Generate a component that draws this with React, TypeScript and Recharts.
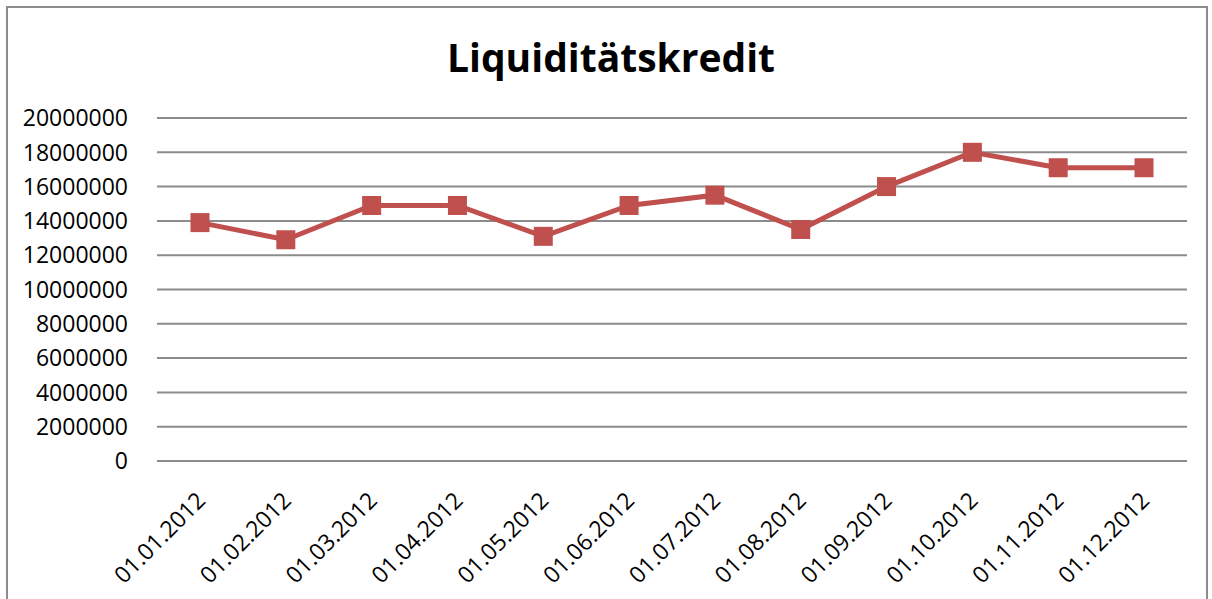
import { CartesianGrid, Line, LineChart, XAxis, YAxis } from 'recharts';

const dates = [
  '01.01.2012', '01.02.2012', '01.03.2012', '01.04.2012', '01.05.2012', '01.06.2012',
  '01.07.2012', '01.08.2012', '01.09.2012', '01.10.2012', '01.11.2012', '01.12.2012',
];
const credit = [
  13900000, 12900000, 14900000, 14900000, 13100000, 14900000,
  15500000, 13500000, 16000000, 18000000, 17100000, 17100000,
];
const yTicks = [0, 2000000, 4000000, 6000000, 8000000, 10000000, 12000000, 14000000, 16000000, 18000000, 20000000];

const data = dates.map((d, i) => ({ date: d, value: credit[i] }));

const FONT = '"Open Sans", sans-serif';
const RED = '#C0504D';

function YTick({ x, y, payload }: any) {
  return (
    <text x={x - 21} y={y} dy="0.36em" textAnchor="end" fontFamily={FONT} fontSize={23} fill="#000">
      {payload.value}
    </text>
  );
}

function XTick({ x, y, payload }: any) {
  const ax = x + 1;
  const ay = y + 27;
  return (
    <text
      x={ax}
      y={ay}
      dy="0.36em"
      textAnchor="end"
      transform={`rotate(-45, ${ax}, ${ay})`}
      fontFamily={FONT}
      fontSize={23}
      fill="#000"
    >
      {payload.value}
    </text>
  );
}

function SquareDot({ cx, cy, index }: any) {
  return <rect key={index} x={cx - 9.5} y={cy - 9.5} width={19} height={19} fill={RED} />;
}

export default function App() {
  return (
    <div style={{ position: 'absolute', left: 0, top: 0, width: 1212, height: 599, overflow: 'hidden', background: '#fff' }}>
      <div
        style={{
          position: 'absolute',
          left: 6,
          top: 6,
          width: 1198,
          height: 640,
          border: '2px solid #8c8c8c',
        }}
      />
      <div
        style={{
          position: 'absolute',
          left: 0,
          width: 1222,
          top: 37,
          textAlign: 'center',
          fontFamily: FONT,
          fontWeight: 700,
          fontSize: 39,
          lineHeight: 1,
          color: '#000',
        }}
      >
        Liquiditätskredit
      </div>
      <div style={{ position: 'absolute', left: 0, top: 0 }}>
        <LineChart width={1212} height={599} data={data} margin={{ top: 118, right: 25, bottom: 28, left: 7 }}>
          <CartesianGrid vertical={false} stroke="#8c8c8c" strokeWidth={2} />
          <XAxis
            dataKey="date"
            scale="point"
            padding={{ left: 43, right: 43 }}
            axisLine={false}
            tickLine={false}
            tick={<XTick />}
            interval={0}
            height={110}
          />
          <YAxis
            domain={[0, 20000000]}
            ticks={yTicks}
            interval={0}
            axisLine={false}
            tickLine={false}
            tick={<YTick />}
            width={150}
          />
          <Line
            dataKey="value"
            stroke={RED}
            strokeWidth={5}
            dot={SquareDot}
            activeDot={false}
            isAnimationActive={false}
          />
        </LineChart>
      </div>
    </div>
  );
}
